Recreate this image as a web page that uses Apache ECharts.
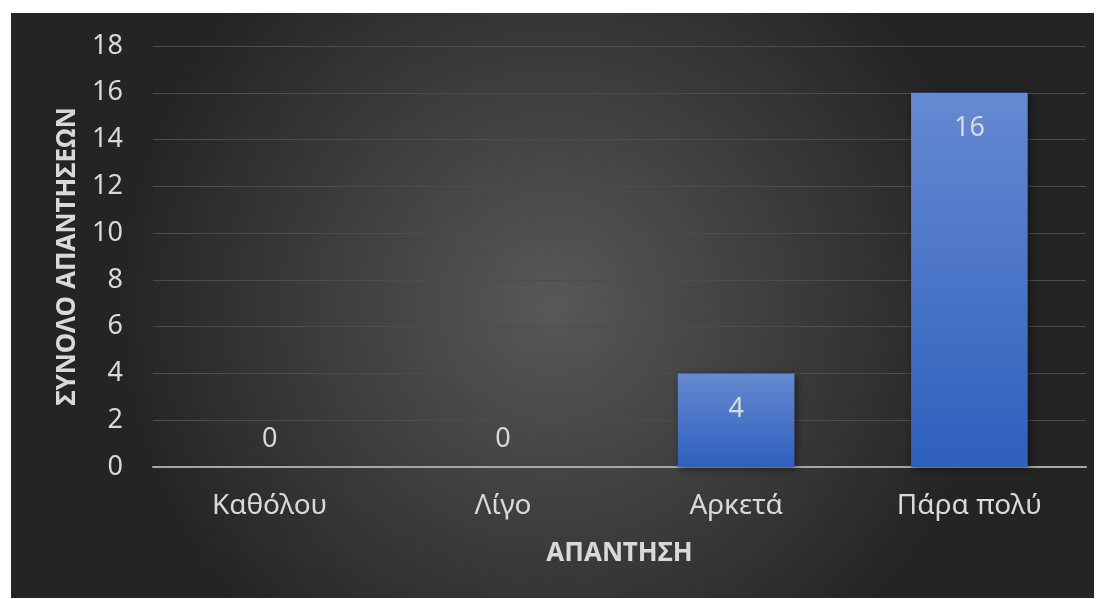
<!DOCTYPE html>
<html><head><meta charset="utf-8">
<script src="https://cdn.jsdelivr.net/npm/echarts@6/dist/echarts.min.js"></script>
<style>html,body{margin:0;padding:0;background:#fff}#c{width:1104px;height:599px}</style>
</head><body><div id="c"></div>
<script>
const categories = ['Καθόλου', 'Λίγο', 'Αρκετά', 'Πάρα πολύ'];
const values = [0, 0, 4, 16];
const yTicks = [0, 2, 4, 6, 8, 10, 12, 14, 16, 18];
const xTitle = 'ΑΠΑΝΤΗΣΗ';
const yTitle = 'ΣΥΝΟΛΟ ΑΠΑΝΤΗΣΕΩΝ';

const chart = echarts.init(document.getElementById('c'), null, {renderer: 'canvas'});
const font = '"Noto Sans", "Open Sans", sans-serif';
const seriesData = values.map(v => v === 0
  ? {value: v, label: {position: 'top', distance: 14}}
  : {value: v});
chart.setOption({
  backgroundColor: '#ffffff',
  animation: false,
  graphic: [{
    type: 'rect', z: -10, silent: true,
    shape: {x: 11, y: 13, width: 1083, height: 585},
    style: {fill: new echarts.graphic.RadialGradient(0.5, 0.5, 0.75, [
      {offset: 0, color: '#585858'}, {offset: 1, color: '#242424'}])}
  }],
  grid: {left: 153, right: 18, top: 46, bottom: 132, containLabel: false},
  xAxis: {
    type: 'category', data: categories,
    axisLine: {show: true, lineStyle: {color: '#a6a6a6', width: 2}},
    axisTick: {show: false},
    axisLabel: {color: '#d9d9d9', fontSize: 28, fontFamily: font, margin: 25},
    name: xTitle, nameLocation: 'middle', nameGap: 74,
    nameTextStyle: {color: '#d9d9d9', fontSize: 26, fontWeight: 'bold', fontFamily: font}
  },
  yAxis: {
    type: 'value', min: 0, max: 18, interval: 2,
    axisLine: {show: false}, axisTick: {show: false},
    splitLine: {lineStyle: {color: '#4d4d4d', width: 1}},
    axisLabel: {color: '#d9d9d9', fontSize: 27, fontFamily: font, margin: 30,
      formatter: v => yTicks.includes(v) ? String(v) : ''},
    name: yTitle, nameLocation: 'middle', nameGap: 72, nameRotate: 90,
    nameTextStyle: {color: '#d9d9d9', fontSize: 26, fontWeight: 'bold', fontFamily: font}
  },
  series: [{
    type: 'bar', data: seriesData, barWidth: '50%',
    itemStyle: {
      color: new echarts.graphic.LinearGradient(0, 0, 0, 1, [
        {offset: 0, color: '#6689d2'}, {offset: 1, color: '#2e60bd'}]),
      shadowColor: 'rgba(0,0,0,0.5)', shadowBlur: 8, shadowOffsetX: 2, shadowOffsetY: 2
    },
    label: {show: true, position: 'insideTop', distance: 22, color: '#d9d9d9', fontSize: 27, fontFamily: font,
      formatter: p => String(p.value)}
  }]
});
</script></body></html>
